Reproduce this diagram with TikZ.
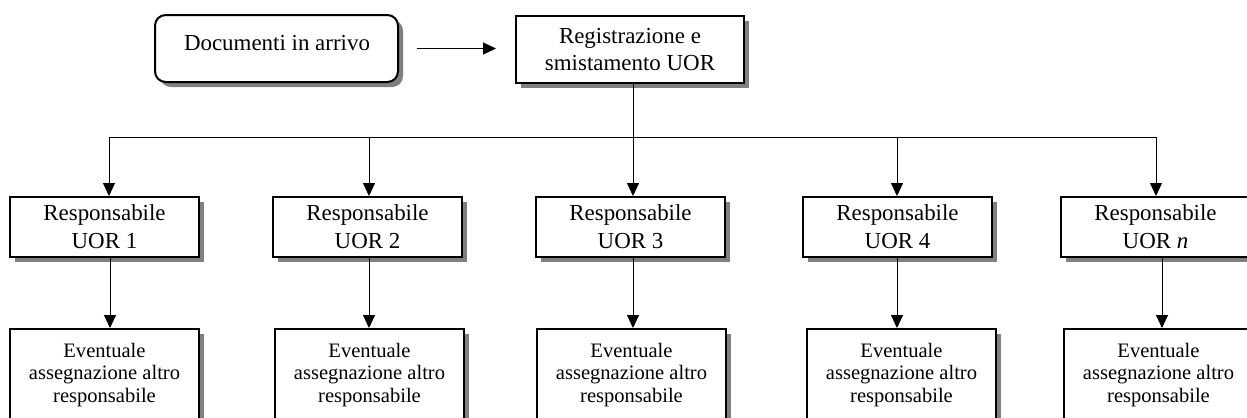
\documentclass[tikz,border=0pt]{standalone}
\usepackage{fontspec}
\setmainfont{Liberation Serif}
\usetikzlibrary{arrows.meta,shadows}
\begin{document}
\begin{tikzpicture}[x=0.75pt,y=-0.75pt,
  shad/.style={drop shadow={shadow xshift=3.75pt,shadow yshift=-3.75pt,fill=black!50,opacity=1}},
  boxA/.style={draw=black,line width=1.5pt,fill=white,inner sep=0pt,align=center,shad},
  toptext/.style={font=\fontsize{17.2}{20.3}\selectfont},
  uortext/.style={font=\fontsize{17.2}{21}\selectfont},
  bottext/.style={font=\fontsize{15.4}{16.9}\selectfont},
  conn/.style={line width=0.75pt},
  arr/.style={conn,-{Triangle[length=9.75pt,width=9pt]}}
]
\useasboundingbox (0,0) rectangle (1247,418);
\clip (0,0) rectangle (1247,418);
% top row
\node[boxA,rounded corners=8pt,minimum width=182.25pt,minimum height=50.25pt] (doc) at (276.5,48.5) {};
\node[toptext,inner sep=0pt] (doctxt) at (277,43) {Documenti in arrivo};
\node[boxA,toptext,minimum width=171pt,minimum height=50.25pt] (reg) at (630,49.5) {Registrazione e\\smistamento UOR};
\coordinate (as) at (417,48.5);
\draw[arr,shorten >=14.25pt] (as) -- (as -| reg.west);
% UOR row
\foreach \i/\x/\lab in {1/104.5/UOR 1,2/367.5/UOR 2,3/630.5/UOR 3,4/897.5/UOR 4,5/1155.5/UOR \textit{n}}{
  \node[boxA,uortext,minimum width=141.75pt,minimum height=45pt] (u\i) at (\x,227) {Responsabile\\\lab};
}
\foreach \i/\x in {1/104.5,2/369.5,3/631.5,4/901.5,5/1158.5}{
  \node[boxA,bottext,minimum width=141.75pt,minimum height=69pt] (e\i) at (\x,375) {Eventuale\\assegnazione altro\\responsabile};
}
% bus
\coordinate (b1) at (109,137);
\coordinate (b2) at (369,137);
\coordinate (b3) at (633,137);
\coordinate (b4) at (897,137);
\coordinate (b5) at (1156,137);
\draw[conn] (b1) -- (b5);
\draw[conn] (reg.south -| b3) -- (b3);
\foreach \i in {1,...,5}{
  \draw[arr] (b\i) -- (b\i |- u\i.north);
}
\coordinate (c1) at (110,0);
\coordinate (c2) at (369,0);
\coordinate (c3) at (633,0);
\coordinate (c4) at (897,0);
\coordinate (c5) at (1162,0);
\foreach \i in {1,...,5}{
  \draw[arr] (c\i |- u\i.south) -- (c\i |- e\i.north);
}
\end{tikzpicture}
\end{document}
